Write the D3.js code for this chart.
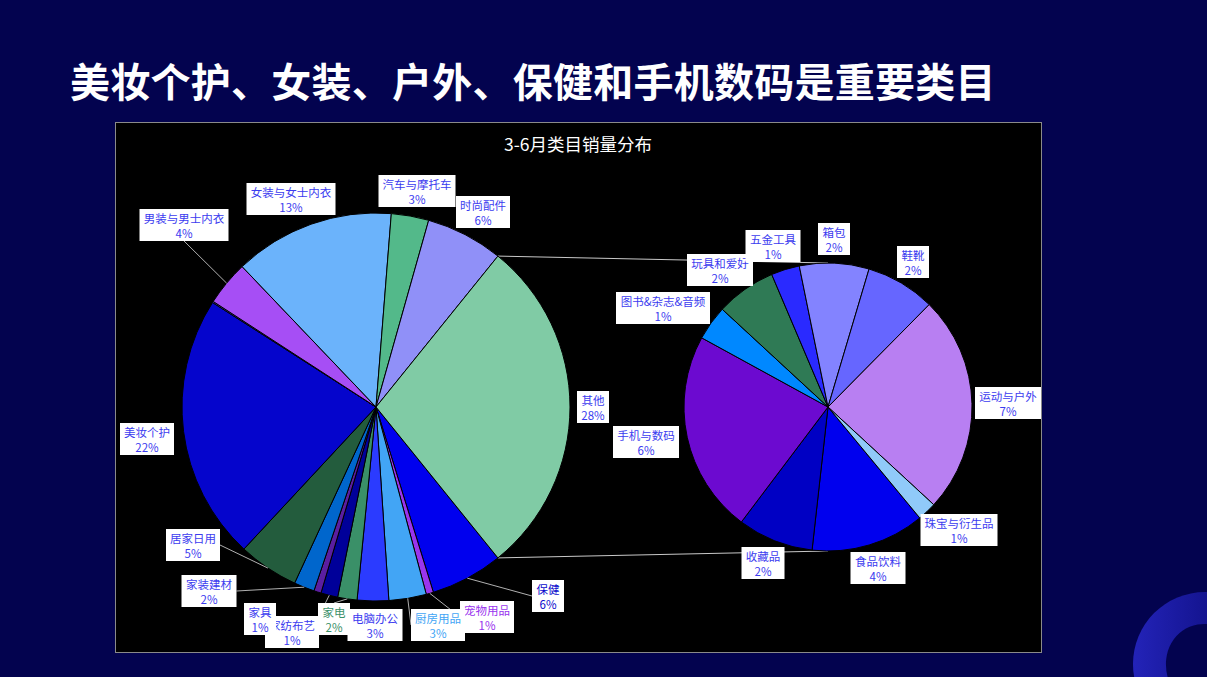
<!DOCTYPE html>
<html><head><meta charset="utf-8">
<script src="https://cdn.jsdelivr.net/npm/d3@7/dist/d3.min.js"></script>
<style>
html,body{margin:0;padding:0;background:#03034f;}
svg{display:block;}
text{font-family:"Noto Sans CJK SC","Microsoft YaHei",sans-serif;}
</style></head>
<body>
<svg id="chart" width="1207" height="677"></svg>
<script>
// ---------- data ----------
const pageTitle = "美妆个护、女装、户外、保健和手机数码是重要类目";
const chartTitle = "3-6月类目销量分布";
const mainCategories = ["保健","宠物用品","厨房用品","电脑办公","家电","家纺布艺","家具","家装建材","居家日用","美妆个护","母婴","男装与男士内衣","女装与女士内衣","汽车与摩托车","时尚配件"];
const mainValues = [6.0,0.6,3.1,2.6,1.6,1.4,0.6,1.7,5.0,22.0,0.1,3.7,13.3,3.1,6.4];
const otherName = "其他";
const subCategories = ["食品饮料","收藏品","手机与数码","图书&杂志&音频","玩具和爱好","五金工具","箱包","鞋靴","运动与户外","珠宝与衍生品"];
const subValues = [3.6,2.4,6.4,1.1,1.9,0.9,2.2,2.2,6.9,0.6];

// ---------- styles ----------
const mainColors = ["#0000ee","#9a35ee","#42a5f5","#2b3bff","#3a9068","#000099","#5b1ea0","#0066cc","#235c3d","#0505cc","#5050f0","#a64ef5","#6bb3fb","#53b98a","#9090f8"];
const otherColor = "#80cba5";
const subColors = ["#0000ee","#0000c4","#6c0ad0","#0088ff","#2f7a55","#2a2aff","#8383ff","#6666ff","#b87ff2","#90caf9"];
const labelColorDefault = "#3c3cef";
const labelColorSpecial = {"家电":"#3a9068","厨房用品":"#42a5f5","宠物用品":"#9933ee","保健":"#0a0acc"};

// label layout: offset of label centre from pie centre, and whether a leader line is drawn
const labelLayout = {
  "男装与男士内衣":[-192,-182,true],"女装与女士内衣":[-85,-208,false],"汽车与摩托车":[41,-216,false],
  "时尚配件":[107,-195,false],"其他":[217,0,false],"保健":[172,189,true],"宠物用品":[111,210,true],
  "厨房用品":[62,218,true],"电脑办公":[-1,218,false],"家电":[-42,212,true],"家纺布艺":[-84,225,true],
  "家具":[-116,212,false],"家装建材":[-167,184,true],"居家日用":[-183,138,true],"美妆个护":[-229,32,false],
  "图书&杂志&音频":[-165,-99,false],"玩具和爱好":[-108,-137,false],"五金工具":[-55,-161,false],
  "箱包":[6,-168,false],"鞋靴":[85,-145,false],"运动与户外":[180,-4,false],"珠宝与衍生品":[131,123,false],
  "食品饮料":[50,161,false],"收藏品":[-65,156,false],"手机与数码":[-182,35,false]
};

const W = 1207, H = 677;
const svg = d3.select("#chart");
svg.append("rect").attr("width",W).attr("height",H).attr("fill","#03034f");

// decorative ring bottom-right
const defs = svg.append("defs");
const g1 = defs.append("linearGradient").attr("id","ringGrad").attr("x1","0").attr("x2","1").attr("y1","0").attr("y2","0");
g1.append("stop").attr("offset","0%").attr("stop-color","#2323b8");
g1.append("stop").attr("offset","100%").attr("stop-color","#06066a");
svg.append("circle").attr("cx",1205).attr("cy",664).attr("r",72).attr("fill","url(#ringGrad)");
svg.append("ellipse").attr("cx",1210).attr("cy",670).attr("rx",42).attr("ry",48)
  .attr("transform","rotate(-35,1210,670)").attr("fill","#03034f");

// page title
svg.append("text").attr("x",70).attr("y",80).attr("dominant-baseline","central")
  .attr("fill","#ffffff").attr("font-size",40).attr("letter-spacing",0.25).attr("font-weight","bold").text(pageTitle);

// chart area
const area = {x:115.5, y:122.5, w:926, h:530};
svg.append("rect").attr("x",area.x).attr("y",area.y).attr("width",area.w).attr("height",area.h)
  .attr("fill","#000000").attr("stroke","#8a8a8a").attr("stroke-width",1);
svg.append("text").attr("x",578).attr("y",143).attr("dominant-baseline","central").attr("text-anchor","middle")
  .attr("fill","#ffffff").attr("font-size",17.5).text(chartTitle);

const subSum = d3.sum(subValues);
const total = d3.sum(mainValues) + subSum;
const pct = v => Math.round(v/total*100) + "%";

const mainData = mainCategories.map((c,i)=>({name:c,value:mainValues[i],color:mainColors[i]}));
mainData.push({name:otherName,value:subSum,color:otherColor});
const subData = subCategories.map((c,i)=>({name:c,value:subValues[i],color:subColors[i]}));

const L = {cx:376, cy:407, r:194};
const R = {cx:828, cy:407, r:144};

const otherAngle = 2*Math.PI*subSum/total;
const a0 = Math.PI/2 + otherAngle/2;
const mainArcs = d3.pie().sort(null).value(d=>d.value).startAngle(a0).endAngle(a0+2*Math.PI)(mainData);
const subStart = 140.4*Math.PI/180;
const subArcs = d3.pie().sort(null).value(d=>d.value).startAngle(subStart).endAngle(subStart+2*Math.PI)(subData);

// connector lines
const otherArc = mainArcs[mainArcs.length-1];
const pt = (p,a,r)=>[p.cx + r*Math.sin(a), p.cy - r*Math.cos(a)];
const cTop = pt(L, otherArc.startAngle, L.r), cBot = pt(L, otherArc.endAngle, L.r);
svg.append("line").attr("x1",cTop[0]).attr("y1",cTop[1]).attr("x2",R.cx).attr("y2",R.cy-R.r).attr("stroke","#c8c8c8").attr("stroke-width",1);
svg.append("line").attr("x1",cBot[0]).attr("y1",cBot[1]).attr("x2",R.cx).attr("y2",R.cy+R.r).attr("stroke","#c8c8c8").attr("stroke-width",1);

function drawPie(p, arcs){
  const arcGen = d3.arc().innerRadius(0).outerRadius(p.r);
  svg.append("g").attr("transform",`translate(${p.cx},${p.cy})`)
    .selectAll("path").data(arcs).join("path")
    .attr("d",arcGen).attr("fill",d=>d.data.color).attr("stroke","#000").attr("stroke-width",1).attr("stroke-linejoin","round");
}
drawPie(L, mainArcs);
drawPie(R, subArcs);

const labelLayer = svg.append("g");
const lineLayer = labelLayer.append("g");
function drawLabels(p, arcs){
  arcs.forEach(a=>{
    const lay = labelLayout[a.data.name];
    if(!lay) return;
    const cx = p.cx + lay[0], cy = p.cy + lay[1];
    const g = labelLayer.append("g").attr("transform",`translate(${cx},${cy})`);
    const col = labelColorSpecial[a.data.name] || labelColorDefault;
    const rect = g.append("rect").attr("fill","#ffffff");
    const t = g.append("text").attr("text-anchor","middle").attr("fill",col).attr("font-size",11.5);
    t.append("tspan").attr("x",0).attr("y",-7).attr("dominant-baseline","central").text(a.data.name);
    t.append("tspan").attr("x",0).attr("y",8).attr("dominant-baseline","central").text(pct(a.data.value));
    const bb = t.node().getBBox();
    const w = Math.ceil(bb.width + 8), h = 32;
    rect.attr("x",-w/2).attr("y",-h/2).attr("width",w).attr("height",h);
    if(lay[2]){
      const mid = (a.startAngle+a.endAngle)/2;
      const q = pt(p, mid, p.r);
      const x0 = cx-w/2, x1 = cx+w/2, y0 = cy-h/2, y1 = cy+h/2;
      const nx = Math.max(x0, Math.min(x1, q[0])), ny = Math.max(y0, Math.min(y1, q[1]));
      let ax, ay;
      if(nx===x0 || nx===x1){ ax = nx; ay = (ny===y0||ny===y1) && Math.abs(q[1]-cy) > h ? ny : cy; }
      else { ax = cx; ay = ny; }
      if(ny===y0||ny===y1){ if(!(nx===x0||nx===x1)) { ax = cx; ay = ny; } }
      lineLayer.append("line").attr("x1",q[0]).attr("y1",q[1]).attr("x2",ax).attr("y2",ay)
        .attr("stroke","#b0b0b0").attr("stroke-width",1);
    }
  });
}
drawLabels(L, mainArcs);
drawLabels(R, subArcs);
lineLayer.lower();
</script>
</body></html>
